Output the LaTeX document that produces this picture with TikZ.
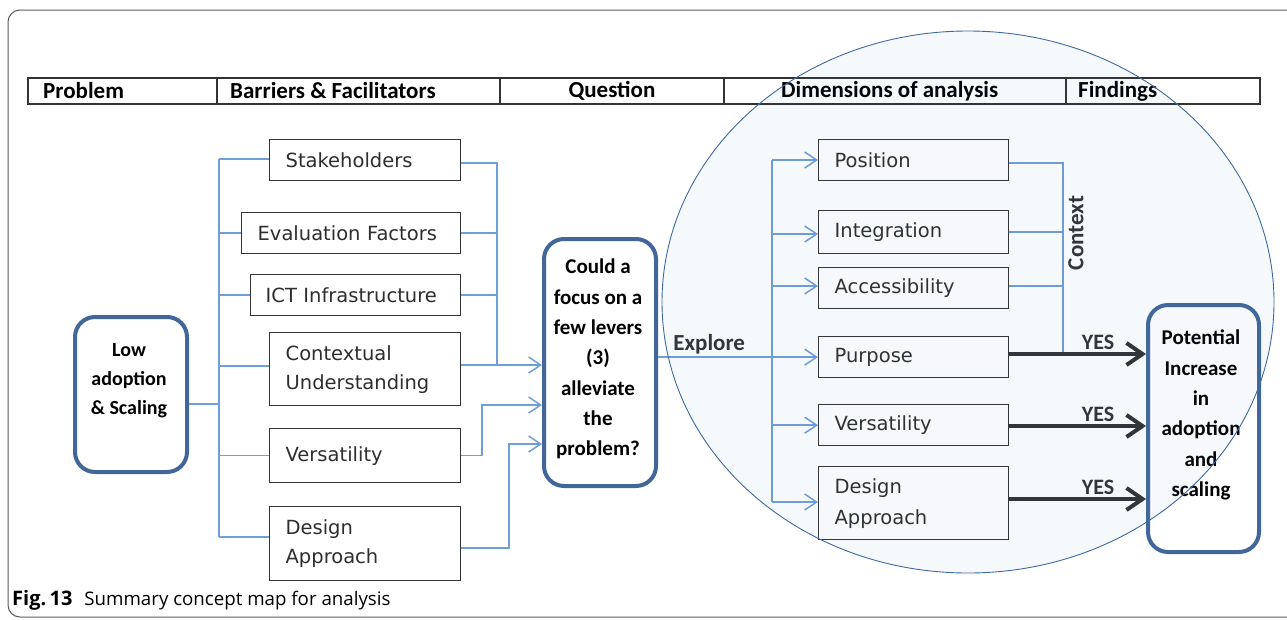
\documentclass[tikz,border=0pt]{standalone}
\usepackage{fontspec}
\setmainfont{DejaVu Sans}
\newfontfamily\hfont{Carlito}
\newfontfamily\capfont{Open Sans}
\usetikzlibrary{arrows.meta}

\definecolor{linkblue}{HTML}{6F9ED8}
\definecolor{framecol}{HTML}{41679A}
\definecolor{boxgray}{HTML}{333333}
\definecolor{ringblue}{HTML}{3F6AA0}
\definecolor{hazeblue}{HTML}{4F81BD}
\definecolor{darkarrow}{HTML}{303336}
\definecolor{outerframe}{HTML}{5A5A5A}

\tikzset{
  box/.style={draw=boxgray, line width=1.3pt, fill=white, align=left,
    inner xsep=16pt, inner ysep=0pt, anchor=north west, text=boxgray!90!black,
    font=\fontsize{19.5}{29}\selectfont},
  roundbox/.style={draw=framecol, line width=4pt, fill=white,
    rounded corners=20pt, anchor=north west, inner sep=0pt},
  boldtxt/.style={font=\hfont\bfseries\fontsize{21}{30.3}\selectfont, align=center},
  headtxt/.style={font=\hfont\bfseries\fontsize{23}{26}\selectfont, inner sep=0pt},
  link/.style={draw=linkblue, line width=1.5pt},
  linkarrow/.style={link, -{Straight Barb[length=12pt,width=16pt]}},
  ctxline/.style={draw=linkblue, line width=1.1pt},
  yesarrow/.style={draw=darkarrow, line width=4pt,
    -{Straight Barb[length=16pt,width=22pt]}},
  yeslbl/.style={font=\hfont\bfseries\fontsize{22}{24}\selectfont,
    text=darkarrow, above, inner sep=2pt, pos=0.65}
}

\begin{document}
\begin{tikzpicture}[x=1pt,y=-1pt]
\useasboundingbox (0,0) rectangle (1287,619);
\clip (0,0) rectangle (1287,619);

% outer figure frame
\draw[outerframe, line width=1pt, rounded corners=12pt]
  (1300,10) -- (8,10) -- (8,617) -- (1300,617);

% header table
\draw[boxgray, line width=1.3pt] (28,78) rectangle (1260,104);
\foreach \xx in {217,500,724,1066} \draw[boxgray, line width=1.3pt] (\xx,78) -- (\xx,104);
\node[headtxt, anchor=west] (hprob) at (43,91) {Problem};
\node[headtxt, anchor=west] (hbar) at (230,91) {Barriers \& Facilitators};
\node[headtxt] (hq) at (612,91) {Question};
\node[headtxt, anchor=west] (hdim) at (781,91) {Dimensions of analysis};
\node[headtxt, anchor=west] (hfind) at (1078,91) {Findings};

% problem
\node[roundbox, minimum width=112pt, minimum height=155pt] (low) at (73,315) {};
\node[boldtxt, font=\hfont\bfseries\fontsize{20}{29}\selectfont] (lowtxt) at (129,381) {Low\\adoption\\\& Scaling};

% barriers and facilitators
\node[box, text width=159pt, minimum height=41pt] (stk) at (269,139) {Stakeholders};
\node[box, text width=187pt, minimum height=41pt] (eval) at (241,212) {Evaluation Factors};
\node[box, inner xsep=15pt, text width=180pt, minimum height=41pt] (ict) at (250,274) {ICT Infrastructure};
\node[box, text width=159pt, minimum height=73pt] (ctx) at (269,332) {Contextual\\Understanding};
\node[box, text width=159pt, minimum height=54pt] (vers) at (269,428) {Versatility};
\node[box, text width=159pt, minimum height=74pt] (design) at (269,506) {Design\\Approach};

% question
\node[roundbox, minimum width=112pt, minimum height=247pt] (could) at (542,237) {};
\node[boldtxt] (couldtxt) at (598,359) {Could a\\focus on a\\few levers\\(3)\\alleviate\\the\\problem?};

% dimensions of analysis
\node[box, text width=158pt, minimum height=41pt] (pos) at (818,139) {Position};
\node[box, text width=158pt, minimum height=43pt] (integ) at (818,210) {Integration};
\node[box, text width=158pt, minimum height=41pt] (acc) at (818,267) {Accessibility};
\node[box, text width=158pt, minimum height=41pt] (purp) at (818,336) {Purpose};
\node[box, text width=158pt, minimum height=41pt] (vers2) at (818,404) {Versatility};
\node[box, text width=158pt, minimum height=73pt, font=\fontsize{19.5}{31}\selectfont] (design2) at (818,466) {Design\\Approach};

% findings
\node[roundbox, minimum width=111pt, minimum height=247pt] (pot) at (1146,303) {};
\node[boldtxt] (pottxt) at (1201,415) {Potential\\Increase\\in\\adoption\\and\\scaling};

% problem to barriers
\coordinate (lbt) at (219,159);
\coordinate (lbb) at (219,537);
\coordinate (lbm) at (219,404);
\draw[link] (low.east |- lbm) -- (lbm);
\draw[link] (lbt) -- (lbb);
\draw[link] (lbt) -- (stk.west |- lbt);
\draw[link] (eval.west -| lbt) -- (eval.west);
\draw[link] (ict.west -| lbt) -- (ict.west);
\draw[link] (0,366 -| lbt) -- (ctx.west |- 0,366);
\draw[link] (vers.west -| lbt) -- (vers.west);
\draw[link] (lbb) -- (design.west |- lbb);

% barriers to question
\coordinate (rbt) at (497,163);
\coordinate (rbb) at (497,365);
\draw[link] (stk.east |- rbt) -- (rbt) -- (rbb);
\draw[link] (eval.east) -- (eval.east -| rbt);
\draw[link] (ict.east) -- (ict.east -| rbt);
\draw[linkarrow] (ctx.east |- rbb) -- (could.west |- rbb);
\coordinate (vk) at (482,405);
\draw[linkarrow] (vers.east) -| (vk) -- (could.west |- vk);
\coordinate (dk) at (509,444);
\draw[linkarrow] (design.east |- 0,548) -| (dk) -- (could.west |- dk);

% question to dimensions
\draw[linkarrow] (could.east |- purp.west) -- node[pos=0.32, above, inner sep=2pt,
  font=\hfont\bfseries\fontsize{23}{26}\selectfont, text=darkarrow] (explore) {Explore} (purp.west);
\coordinate (ebt) at (772,160);
\coordinate (ebb) at (772,502);
\draw[link] (ebt) -- (ebb);
\draw[linkarrow] (ebt) -- (pos.west |- ebt);
\draw[linkarrow] (772,234) -- (integ.west |- 0,234);
\draw[linkarrow] (772,286) -- (acc.west |- 0,286);
\draw[linkarrow] (vers2.west -| ebt) -- (vers2.west);
\draw[linkarrow] (ebb) -- (design2.west |- ebb);

% context grouping
\coordinate (cbt) at (1063,163);
\coordinate (cbb) at (1063,354);
\draw[ctxline] (pos.east |- cbt) -- (cbt) -- (cbb);
\draw[ctxline] (integ.east |- 0,232) -- (1063,232);
\draw[ctxline] (acc.east |- 0,286) -- (1063,286);
\node[font=\hfont\bfseries\fontsize{23}{26}\selectfont, text=darkarrow, rotate=90, inner sep=0pt] (ctxlbl) at (1076,233) {Context};

% findings arrows
\draw[yesarrow] (purp.east |- cbb) -- node[yeslbl] (yes1) {YES} (pot.west |- cbb);
\draw[yesarrow] (vers2.east |- 0,426) -- node[yeslbl] (yes2) {YES} (pot.west |- 0,426);
\draw[yesarrow] (design2.east |- 0,499) -- node[yeslbl] (yes3) {YES} (pot.west |- 0,499);

% analysis scope
\fill[hazeblue, fill opacity=0.05] (968,302) ellipse [x radius=306, y radius=271];
\draw[ringblue, line width=0.9pt] (968,302) ellipse [x radius=306, y radius=271];

% caption
\node[anchor=west, inner sep=0pt, font=\capfont\fontsize{18.7}{22}\selectfont] (cap) at (12,600)
  {{\fontsize{20}{22}\selectfont\textbf{Fig.\,13}}\hspace{12pt}Summary concept map for analysis};
\end{tikzpicture}
\end{document}
